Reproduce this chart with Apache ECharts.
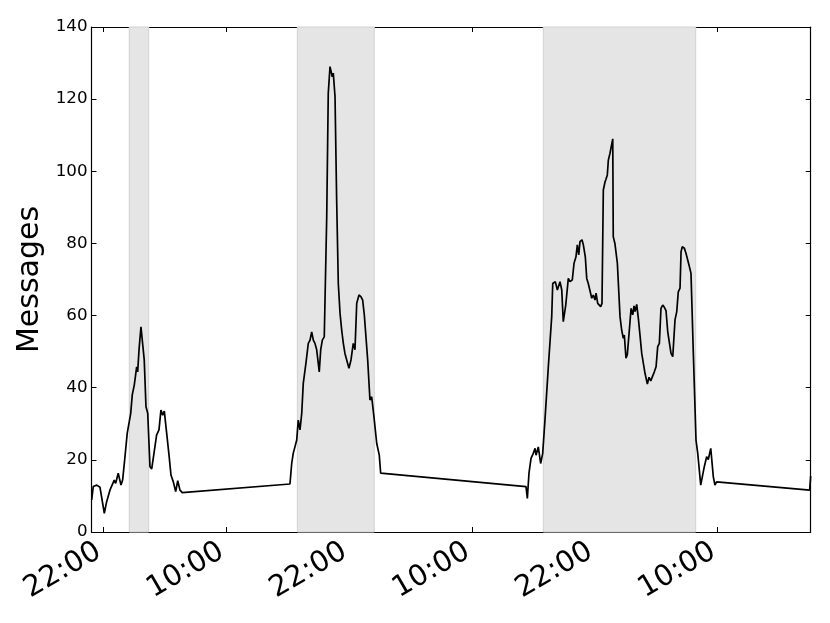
<!DOCTYPE html>
<html>
<head>
<meta charset="utf-8">
<script src="https://cdn.jsdelivr.net/npm/echarts@6/dist/echarts.min.js"></script>
<style>
html, body { margin: 0; padding: 0; background: #fff; }
#chart { width: 830px; height: 623px; }
</style>
</head>
<body>
<div id="chart"></div>
<script>
// hours counted from the first 22:00 tick
var day1Hours = [-1.13, -0.98, -0.64, -0.32, -0.16, 0.10, 0.33, 0.65, 0.82, 1.07, 1.21, 1.46, 1.73, 1.89, 2.12, 2.34, 2.51, 2.68, 2.83, 3.03, 3.26, 3.36, 3.49, 3.68, 3.81, 4.00, 4.17, 4.34, 4.56, 4.73, 4.95, 5.21, 5.44, 5.63, 5.80, 5.96, 6.19, 6.42, 6.61, 6.84, 7.07, 7.27, 7.49, 7.71];
var day1Msgs  = [8.9, 12.6, 13.0, 12.4, 12.6, 5.2, 8.4, 11.6, 11.2, 14.4, 13.5, 16.3, 13.0, 14.4, 20.9, 27.4, 27.5, 32.9, 38.0, 40.8, 45.8, 44.4, 50.5, 56.9, 57.4, 47.7, 34.7, 32.9, 18.1, 17.5, 21.8, 26.9, 28.3, 33.8, 32.4, 33.5, 27.4, 21.3, 15.8, 13.9, 11.2, 14.2, 11.6, 10.9];

var day2Hours = [18.23, 18.40, 18.55, 18.72, 18.89, 19.04, 19.21, 19.38, 19.53, 19.79, 20.02, 20.19, 20.35, 20.51, 20.67, 20.84, 21.09, 21.23, 21.39, 21.58, 21.72, 21.82, 21.97, 22.14, 22.27, 22.36, 22.46, 22.63, 22.79, 22.95, 23.12, 23.28, 23.44, 23.60, 23.77, 23.99, 24.19, 24.41, 24.58, 24.75, 24.97, 25.17, 25.33, 25.49, 25.65, 25.82, 26.04, 26.21, 26.43, 26.70, 26.95, 27.09];
var day2Msgs  = [13.3, 19.0, 21.8, 21.3, 25.5, 31.0, 28.3, 32.9, 41.2, 46.8, 52.3, 53.2, 55.5, 53.2, 52.3, 50.5, 44.4, 50.5, 53.2, 54.1, 54.6, 87.4, 121.6, 129.0, 129.0, 126.2, 127.2, 120.7, 92.0, 68.9, 60.6, 56.0, 52.3, 49.5, 47.7, 45.4, 47.7, 52.3, 50.5, 63.4, 65.7, 65.2, 64.3, 60.2, 60.2, 47.7, 36.6, 37.5, 32.0, 24.6, 21.3, 16.3];

var day3Hours = [41.28, 41.41, 41.57, 41.77, 41.99, 42.16, 42.26, 42.48, 42.71, 42.91, 43.13, 43.46, 43.79, 43.89, 44.04, 44.14, 44.34, 44.60, 44.77, 44.92, 45.16, 45.41, 45.58, 45.80, 45.97, 46.16, 46.29, 46.43, 46.55, 46.75, 46.88, 47.07, 47.21, 47.36, 47.53, 47.70, 47.85, 48.02, 48.12, 48.28, 48.41, 48.57, 48.70, 48.83, 49.00, 49.09, 49.22, 49.32, 49.48, 49.58, 49.75, 49.80, 49.96, 50.20, 50.46, 50.62, 50.78, 50.88, 51.04, 51.17, 51.37, 51.54, 51.70, 51.83, 51.93, 52.09, 52.25, 52.41, 52.58, 52.73, 52.90, 53.13, 53.29, 53.46, 53.65, 53.81, 53.98, 54.14, 54.30, 54.46, 54.63, 54.79, 54.95, 55.12, 55.27, 55.44, 55.61, 55.83, 56.00, 56.15, 56.32, 56.42, 56.54, 56.74, 56.90, 57.07, 57.23, 57.39, 57.62, 57.88, 58.05, 58.34, 58.50, 58.69, 58.92, 59.08, 59.32, 59.57, 59.73, 59.89];
var day3Msgs  = [12.6, 9.3, 16.3, 20.4, 21.8, 23.2, 21.3, 23.6, 19.0, 21.8, 31.0, 45.8, 59.7, 68.9, 68.5, 69.4, 67.1, 69.4, 67.1, 58.3, 62.9, 70.3, 69.4, 69.9, 74.5, 76.3, 79.6, 76.8, 80.5, 81.0, 79.6, 76.3, 70.3, 68.9, 69.4, 64.8, 65.7, 64.3, 66.2, 63.4, 63.9, 62.5, 63.4, 94.8, 97.1, 97.8, 99.0, 103.1, 105.0, 105.4, 109.0, 81.9, 80.0, 74.5, 59.7, 56.0, 53.7, 54.6, 48.2, 49.1, 56.0, 62.0, 60.2, 62.7, 61.1, 63.1, 59.2, 54.6, 49.5, 49.1, 44.0, 41.0, 42.9, 41.9, 42.1, 44.4, 45.8, 51.4, 52.3, 62.0, 62.9, 62.3, 61.4, 55.5, 55.1, 49.5, 48.6, 58.8, 61.1, 66.6, 67.6, 77.7, 79.1, 78.7, 77.3, 75.4, 73.6, 71.7, 49.5, 25.5, 21.8, 13.0, 13.5, 18.1, 20.9, 20.1, 23.2, 15.3, 13.0, 13.9];

var day4Hours = [68.98, 69.08];
var day4Msgs  = [11.6, 15.5];

// shaded spans (hours)
var bandStarts = [2.54, 18.95, 42.97];
var bandEnds   = [4.43, 26.46, 57.85];

var tickHours  = [0, 12, 24, 36, 48, 60];
var tickLabels = ['22:00', '10:00', '22:00', '10:00', '22:00', '10:00'];

var xMin = -1.15, xMax = 69.08;

function pairs(hs, ms) {
    return hs.map(function (h, i) { return [h, ms[i]]; });
}
var lineData = [].concat(
    pairs(day1Hours, day1Msgs),
    pairs(day2Hours, day2Msgs),
    pairs(day3Hours, day3Msgs),
    pairs(day4Hours, day4Msgs)
);

var bands = bandStarts.map(function (s, i) {
    return [{ xAxis: s }, { xAxis: bandEnds[i] }];
});

var font = 'DejaVu Sans';
var spine = { show: true, onZero: false, lineStyle: { color: '#000', width: 1.2 } };
var tick = { show: true, inside: true, length: 5, lineStyle: { color: '#000', width: 1 } };

var chart = echarts.init(document.getElementById('chart'));
chart.setOption({
    animation: false,
    backgroundColor: '#fff',
    grid: { left: 91.5, right: 19.3, top: 27, bottom: 91, outerBoundsMode: 'none', containLabel: false },
    xAxis: [{
        type: 'value',
        min: xMin, max: xMax,
        axisLine: spine,
        axisTick: Object.assign({ customValues: tickHours }, tick),
        splitLine: { show: false },
        axisLabel: {
            customValues: tickHours,
            rotate: 30,
            margin: 15,
            padding: [0, 5, 0, 0],
            fontFamily: font,
            fontSize: 29,
            color: '#000',
            formatter: function (v) {
                var k = tickHours.indexOf(Math.round(v));
                return k >= 0 ? tickLabels[k] : '';
            }
        }
    }, {
        type: 'value',
        position: 'top',
        min: xMin, max: xMax,
        axisLine: spine,
        axisTick: Object.assign({ customValues: tickHours }, tick),
        axisLabel: { show: false },
        splitLine: { show: false }
    }],
    yAxis: [{
        type: 'value',
        min: 0, max: 140, interval: 20,
        name: 'Messages',
        nameLocation: 'middle',
        nameGap: 43,
        nameTextStyle: { fontFamily: font, fontSize: 30, color: '#000' },
        axisLine: spine,
        axisTick: tick,
        splitLine: { show: false },
        axisLabel: { margin: 4, fontFamily: font, fontSize: 16.7, color: '#000' }
    }, {
        type: 'value',
        position: 'right',
        min: 0, max: 140, interval: 20,
        axisLine: spine,
        axisTick: tick,
        axisLabel: { show: false },
        splitLine: { show: false }
    }],
    series: [{
        type: 'line',
        data: lineData,
        showSymbol: false,
        symbol: 'none',
        lineStyle: { color: '#000', width: 1.7 },
        z: 3,
        markArea: {
            silent: true,
            itemStyle: { color: '#e5e5e5', borderColor: '#d2d2d2', borderWidth: 1 },
            data: bands
        }
    }]
});
</script>
</body>
</html>
